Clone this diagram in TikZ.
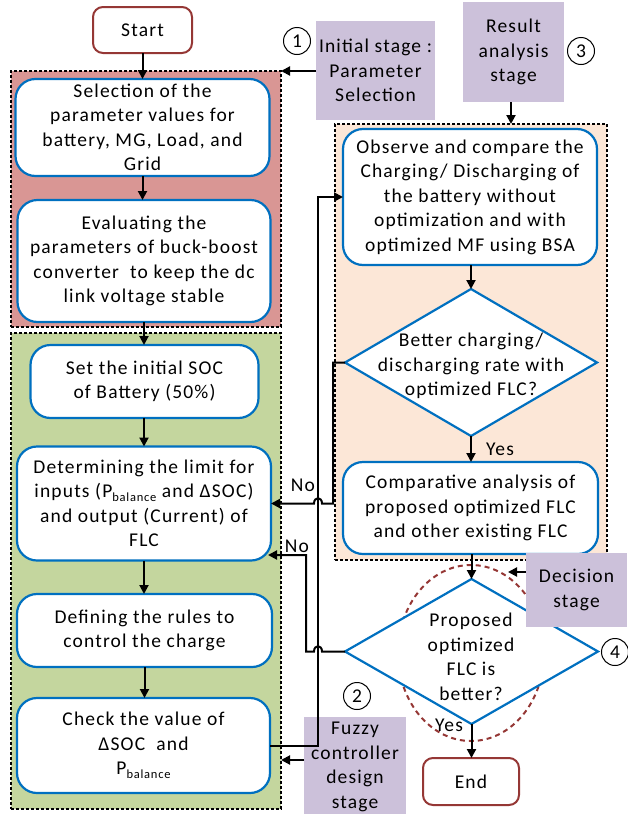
\documentclass[tikz,border=0pt]{standalone}
\usepackage{fontspec}
\setmainfont{Carlito}[LetterSpace=6]
\usetikzlibrary{arrows.meta,shapes.geometric,calc}

\definecolor{boxblue}{RGB}{0,112,192}
\definecolor{termred}{RGB}{149,55,53}
\definecolor{redfill}{RGB}{217,150,148}
\definecolor{greenfill}{RGB}{196,214,158}
\definecolor{orangefill}{RGB}{252,231,215}
\definecolor{lavender}{RGB}{204,193,218}

\newcommand\Pbal{P\raisebox{-4pt}{\fontsize{12.5}{12.5}\selectfont balance}}

\begin{document}
\begin{tikzpicture}[x=1pt,y=-1pt,
  font=\fontsize{19.5}{24.5}\selectfont,
  every node/.style={inner sep=0pt,outer sep=0pt},
  panel/.style={draw=black,line width=1.8pt,dash pattern=on 3pt off 2pt},
  process/.style={draw=boxblue,line width=2.2pt,fill=white,rounded corners=20pt,align=center},
  terminal/.style={draw=termred,line width=2pt,fill=white,rounded corners=10pt,align=center},
  decision/.style={draw=boxblue,line width=2.2pt,fill=white,diamond},
  stagelabel/.style={fill=lavender,align=center},
  num/.style={circle,draw=black,line width=1pt,minimum size=27pt},
  arr/.style={draw=black,line width=2pt,-{Triangle[length=9pt,width=9pt]}},
  lbl/.style={inner sep=0pt}
]
\useasboundingbox (0,0) rectangle (628,814);

% stage panels
\node[panel,fill=redfill,minimum width=270,minimum height=256] (stage1) at (146,199) {};
\node[panel,fill=greenfill,minimum width=270,minimum height=476] (stage2) at (146,571) {};
\node[panel,fill=orangefill,minimum width=272,minimum height=436] (stage3) at (471,342) {};

% decision focus ring
\node[ellipse,draw=termred,line width=2pt,dash pattern=on 5pt off 4pt,
      minimum width=146,minimum height=176] (focus) at (471,653) {};

% left column
\node[terminal,minimum width=99,minimum height=46] (start) at (142.5,30) {Start};
\node[process,minimum width=254,minimum height=97] (b1) at (142.5,127.5)
  {Selection of the\\parameter values for\\battery, MG, Load, and\\Grid};
\node[process,minimum width=253,minimum height=122] (b2) at (144,261)
  {Evaluating the\\parameters of buck-boost\\converter\ \ to keep the dc\\link voltage stable};
\node[process,minimum width=228,minimum height=73] (b3) at (144.5,381.5)
  {Set the initial SOC\\of Battery (50\%)};
\node[process,minimum width=254,minimum height=114] (b4) at (144,503.5)
  {Determining the limit for\\inputs (\Pbal{} and ΔSOC)\\and output (Current) of\\FLC};
\node[process,minimum width=255,minimum height=73] (b5) at (144.5,630.5)
  {Defining the rules to\\control the charge};
\node[process,minimum width=253,minimum height=95] (b6) at (143.5,745.5)
  {Check the value of\\ΔSOC\ \ and\\\Pbal};

% right column
\node[process,minimum width=254,minimum height=136] (b7) at (470,197)
  {Observe and compare the\\Charging/ Discharging of\\the battery without\\optimization and with\\optimized MF using BSA};
\node[decision,minimum width=252,minimum height=147] (d1) at (471,362.5) {};
\node[align=center] (d1text) at (471,366) {Better charging/\\discharging rate with\\optimized FLC?};
\node[process,minimum width=255,minimum height=92] (b8) at (470.5,508)
  {Comparative analysis of\\proposed optimized FLC\\and other existing FLC};
\node[decision,minimum width=253,minimum height=145] (d2) at (471.5,651.5) {};
\node[align=center] (d2text) at (471,657) {Proposed\\optimized\\FLC is\\better?};
\node[terminal,minimum width=96,minimum height=47] (end) at (471,781.5) {End};

% stage labels
\node[stagelabel,minimum width=119,minimum height=99] (L1) at (375.5,70.5)
  {Initial stage :\\Parameter\\Selection};
\node[stagelabel,minimum width=101,minimum height=100] (L3) at (513.5,52)
  {Result\\analysis\\stage};
\node[stagelabel,minimum width=101,minimum height=74] (L4) at (576.5,590)
  {Decision\\stage};
\node[stagelabel,minimum width=102,minimum height=100] (L2) at (355,767)
  {Fuzzy\\controller\\design\\stage};

% stage numbers
\node[num] (n1) at (297,41) {1};
\node[num] (n2) at (357,696) {2};
\node[num] (n3) at (581,51) {3};
\node[num] (n4) at (615,652) {4};

% routing coordinates
\coordinate (loopx) at (318,0);
\coordinate (noturn) at (306,0);
\coordinate (no2end) at (268,555);
\coordinate (focuspt) at (508,572);

% main flow
\draw[arr] (start) -- (start |- b1.north);
\draw[arr] (b1) -- (b1 |- b2.north);
\draw[arr] (b2.south) -- (b2.south |- b3.north);
\draw[arr] (b3.south -| b2.south) -- (b2.south |- b4.north);
\draw[arr] (b4.south) -- (b4.south |- b5.north);
\draw[arr] (b5.south) -- (b5.south |- b6.north);
\draw[arr] (b6.east) -- (b6.east -| loopx) -- (loopx |- b7.west) -- (b7.west);
\draw[arr] (b7.south -| d1.north) -- (d1.north);
\draw[arr] (d1.south) -- (d1.south |- b8.north);
\draw[arr] (b8.south -| d2.north) -- (d2.north);
\draw[arr] (d2.south) -- (d2.south |- end.north);

% "No" branches, hopping over the return line
\draw[arr] (d1.west) -- ++(-12,0) |- ($(loopx |- b4.east)+(4,0)$)
  .. controls +(0,-7) and +(0,-7) .. ($(loopx |- b4.east)+(-4,0)$) -- (b4.east);
\draw[arr] (d2.west) -- ($(loopx |- d2.west)+(4,0)$)
  .. controls +(0,-7) and +(0,-7) .. ($(loopx |- d2.west)+(-4,0)$)
  -- (noturn |- d2.west) |- (no2end);

% stage label pointers
\draw[arr] (L1.west |- stage1.north) -- (stage1.north east);
\draw[arr] (L3.south -| 511,0) -- (stage3.north -| 511,0);
\draw[arr] (L4.west |- focuspt) -- (focuspt);
\draw[arr] (L2.west |- 0,760) -- (stage2.east |- 0,760);

% branch labels
\node[lbl] at (303,485) {No};
\node[lbl] at (297,546) {No};
\node[lbl] at (500,449) {Yes};
\node[lbl] at (449,725) {Yes};
\end{tikzpicture}
\end{document}
